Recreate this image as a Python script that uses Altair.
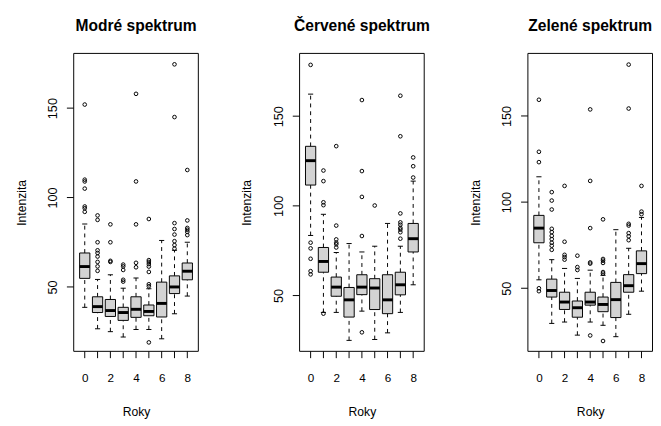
import altair as alt
import pandas as pd

groups = list(range(9))
titles = ["Modré spektrum", "Červené spektrum", "Zelené spektrum"]
y_ticks = [50, 100, 150]

# Modré spektrum
blue_lo = [38.6, 26.6, 25.0, 22.0, 26.2, 26.2, 21.0, 35.0, 44.9]
blue_q1 = [54.8, 35.7, 33.5, 31.3, 33.0, 33.9, 33.2, 46.3, 54.0]
blue_med = [61.4, 39.0, 36.8, 35.7, 37.5, 36.3, 40.8, 50.0, 58.8]
blue_q3 = [69.0, 44.5, 43.0, 38.6, 44.5, 39.9, 52.7, 56.2, 63.4]
blue_hi = [85.2, 54.2, 56.8, 49.3, 55.0, 49.0, 76.0, 70.5, 75.0]
blue_out = [[152, 110, 109, 105, 95, 94, 92],
            [90, 87.5, 75, 70.5, 69, 67, 64, 61.5, 59],
            [85, 75, 64.6, 64],
            [62.5, 61.5, 59.5, 54, 53],
            [158, 109, 85, 63.5, 61],
            [88, 65, 64, 62.8, 61.4, 58.4, 51.5, 50.4, 19],
            [],
            [174.5, 145, 85.7, 82.4, 79.3, 75.6, 73.4, 71.4],
            [115.4, 87.2, 83, 82, 80.8, 79]]

# Červené spektrum
red_lo = [83.5, 40.6, 40.6, 25.0, 41.3, 25.5, 29.2, 40.6, 56.0]
red_q1 = [111.6, 63.0, 49.6, 38.0, 50.5, 42.2, 39.9, 50.4, 74.3]
red_med = [125.2, 69.0, 54.7, 47.6, 54.7, 54.2, 47.6, 56.0, 81.7]
red_q3 = [133.2, 76.8, 60.3, 54.5, 61.6, 59.4, 61.6, 63.0, 90.2]
red_hi = [162.3, 95.3, 74.0, 79.0, 74.3, 77.5, 90.2, 77.5, 113.8]
red_out = [[178.6, 79.5, 76.3, 70.5, 63.6, 61.8],
           [119.7, 113.8, 102, 100.4, 39.9],
           [133.3, 89, 81.3, 79.5, 78.6, 76.8],
           [],
           [159, 119.4, 105, 83.2, 29.5],
           [100.2],
           [],
           [161.4, 138.8, 95.8, 90.8, 89.5, 87.7, 86.8, 85.3, 81.7],
           [127, 122.1, 115.8]]

# Zelené spektrum
green_lo = [54.9, 29.6, 30.4, 22.8, 30.4, 28.5, 21.9, 34.9, 48.3]
green_q1 = [76.4, 44.9, 37.7, 33.2, 40.2, 36.4, 33.0, 47.7, 58.5]
green_med = [84.9, 48.7, 42.0, 38.7, 42.0, 40.6, 43.4, 51.5, 64.3]
green_q3 = [92.3, 55.3, 47.7, 42.6, 47.7, 44.9, 53.4, 57.9, 71.7]
green_hi = [114.7, 66.6, 61.5, 55.7, 60.5, 57.5, 84.0, 73.2, 91.1]
green_out = [[159.4, 129.2, 123.2, 50, 48.3],
             [105.8, 100.9, 95.7, 84.5, 82.6, 80.4, 78.5, 76.4, 74.7, 72.3],
             [109.4, 77, 69.4, 68.1, 66.6],
             [68.9, 62.3, 60.6],
             [153.8, 112.3, 84.9, 65, 64.3, 22.6],
             [90, 67, 66, 64.7, 59.4, 58.5, 19.4],
             [],
             [179.8, 154.3, 87.4, 86.4, 82, 80.2, 77.9],
             [109.4, 94.5, 93]]

y_domains = [[14.0, 180.6], [18.9, 185.0], [13.4, 186.3]]

FONT = "Liberation Sans"
W, H = 128, 306
TICK = 7


def panel(title, lo, q1, med, q3, hi, outs, ydom):
    box = pd.DataFrame({
        "g": groups, "lo": lo, "q1": q1, "med": med, "q3": q3, "hi": hi,
    })
    box["bl"] = box["g"] - 0.4
    box["br"] = box["g"] + 0.4
    box["cl"] = box["g"] - 0.2
    box["cr"] = box["g"] + 0.2
    pts = pd.DataFrame([{"g": g, "v": v} for g, vs in zip(groups, outs) for v in vs])
    yt = pd.DataFrame({"t": y_ticks})
    frame_df = pd.DataFrame({"k": [0]})

    xsc = alt.Scale(domain=[-0.86, 8.86], nice=False, zero=False)
    ysc = alt.Scale(domain=ydom, nice=False, zero=False)
    xax = alt.Axis(values=groups, labelExpr="datum.value % 2 == 0 ? datum.label : ''",
                   domain=False, grid=False, ticks=False, labelOverlap=False,
                   labelPadding=22, labelFontSize=12, labelFont=FONT, labelColor="black",
                   labelAlign="center", labelBaseline="top",
                   title="Roky", titleFont=FONT, titleFontSize=12.5, titleFontWeight="normal",
                   titleColor="black", titlePadding=23)
    yax = alt.Axis(values=y_ticks, domain=False, grid=False, ticks=False, labelAngle=-90,
                   labelAlign="center", labelOverlap=False,
                   labelBaseline="bottom", labelPadding=15, labelFontSize=13, labelFont=FONT,
                   labelColor="black", title="Intenzita", titleFont=FONT, titleFontSize=12.5,
                   titleFontWeight="normal", titleColor="black", titlePadding=19)

    def X(f):
        return alt.X(f, scale=xsc, axis=xax, title="Roky")

    def Y(f):
        return alt.Y(f, scale=ysc, axis=yax, title="Intenzita")

    base = alt.Chart(box)
    rect = base.mark_rect(fill="#d3d3d3", stroke="black", strokeWidth=1).encode(
        x=X("bl:Q"), x2="br:Q", y=Y("q1:Q"), y2="q3:Q")
    wh_up = base.mark_rule(color="black", strokeWidth=1, strokeDash=[4, 4]).encode(
        x=X("g:Q"), y=Y("q3:Q"), y2="hi:Q")
    wh_dn = base.mark_rule(color="black", strokeWidth=1, strokeDash=[4, 4]).encode(
        x=X("g:Q"), y=Y("lo:Q"), y2="q1:Q")
    cap_hi = base.mark_rule(color="black", strokeWidth=1).encode(
        x=X("cl:Q"), x2="cr:Q", y=Y("hi:Q"))
    cap_lo = base.mark_rule(color="black", strokeWidth=1).encode(
        x=X("cl:Q"), x2="cr:Q", y=Y("lo:Q"))
    median = base.mark_rule(color="black", strokeWidth=3).encode(
        x=X("bl:Q"), x2="br:Q", y=Y("med:Q"))
    outl = alt.Chart(pts).mark_point(shape="circle", filled=False, size=14, color="black",
                                     strokeWidth=1, opacity=1).encode(
        x=X("g:Q"), y=Y("v:Q"))
    xticks = base.mark_rule(color="black", strokeWidth=1).encode(
        x=X("g:Q"), y=alt.value(H), y2=alt.value(H + TICK))
    yticks = alt.Chart(yt).mark_rule(color="black", strokeWidth=1).encode(
        y=Y("t:Q"), x=alt.value(0), x2=alt.value(-TICK))
    frame = alt.Chart(frame_df).mark_rect(fillOpacity=0, fill="white", stroke="black",
                                          strokeWidth=1).encode(
        x=alt.value(0), x2=alt.value(W), y=alt.value(0), y2=alt.value(H))

    return alt.layer(wh_up, wh_dn, cap_hi, cap_lo, rect, median, outl, xticks, yticks,
                     frame).properties(
        width=W, height=H,
        title=alt.Title(title, font=FONT, fontSize=16, fontWeight="bold", color="black",
                        frame="group", anchor="middle", offset=20))


p1 = panel(titles[0], blue_lo, blue_q1, blue_med, blue_q3, blue_hi, blue_out, y_domains[0])
p2 = panel(titles[1], red_lo, red_q1, red_med, red_q3, red_hi, red_out, y_domains[1])
p3 = panel(titles[2], green_lo, green_q1, green_med, green_q3, green_hi, green_out, y_domains[2])

chart = alt.hconcat(p1, alt.hconcat(p2, p3, spacing=39.5), spacing=43).properties(
    padding={"left": 7.5, "top": 4, "right": 0, "bottom": 0}
).configure(background="white").configure_view(stroke=None)

chart.save("out.html", embed_options={"renderer": "svg", "actions": False})
